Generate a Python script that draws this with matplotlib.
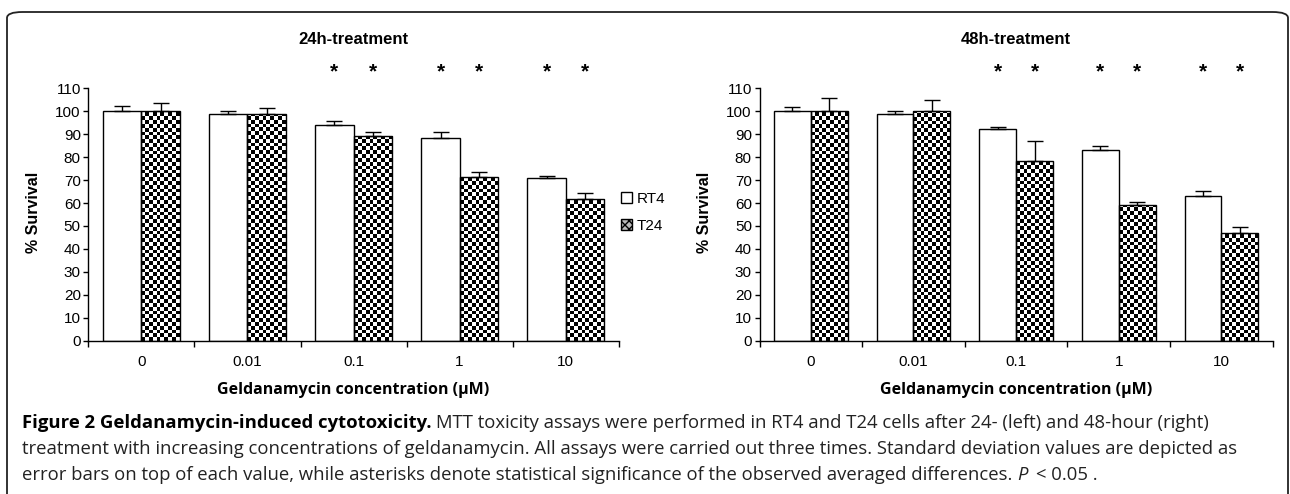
import numpy as np
import matplotlib
matplotlib.use("Agg")
import matplotlib.pyplot as plt
from matplotlib.patches import Patch, FancyBboxPatch

# data
concentrations = ["0", "0.01", "0.1", "1", "10"]
series_names = ["RT4", "T24"]

rt4_24h = [100, 99, 94, 88.5, 71]
rt4_24h_err = [2.4, 1.2, 1.7, 2.6, 0.6]
t24_24h = [100, 99, 89, 71.3, 61.7]
t24_24h_err = [3.4, 2.6, 2.0, 2.2, 2.7]

rt4_48h = [100, 99, 92.3, 83, 63.2]
rt4_48h_err = [1.8, 1.3, 1.0, 1.7, 2.2]
t24_48h = [100, 100.2, 78.5, 59.3, 46.8]
t24_48h_err = [5.6, 4.8, 8.7, 1.0, 2.8]

# categories marked with an asterisk (both bars)
significant = [False, False, True, True, True]

titles = ["24h-treatment", "48h-treatment"]
xlabel = "Geldanamycin concentration (\u00b5M)"
ylabel = "% Survival"

W, H = 1290, 494
NARROW = ["Liberation Sans Narrow", "Liberation Sans", "DejaVu Sans"]
CAP = ["Open Sans", "DejaVu Sans"]

fig = plt.figure(figsize=(W / 100, H / 100), dpi=100)
fig.patch.set_facecolor("white")

# rounded frame around the figure (bottom runs off the page)
frame = FancyBboxPatch((7 / W, -0.1), (1288 - 7) / W, 1.1 - 12 / H,
                       boxstyle="round,pad=0,rounding_size=0.012",
                       transform=fig.transFigure, fill=False,
                       edgecolor="#222222", lw=1.3)
fig.patches.append(frame)

ax_bottom = (H - 340.7) / H
ax_height = (340.7 - 88.3) / H
ax1 = fig.add_axes([88.4 / W, ax_bottom, (618.7 - 88.4) / W, ax_height])
ax2 = fig.add_axes([759.5 / W, ax_bottom, (1272.8 - 759.5) / W, ax_height])

bw = 0.36
cell = 3.8  # checker square, px


def checker_fill(ax, bar, px_x, px_y):
    x0 = bar.get_x()
    w = bar.get_width()
    h = bar.get_height()
    nx = int(np.ceil(w * px_x / cell))
    ny = int(np.ceil(h * px_y / cell))
    arr = np.add.outer(np.arange(ny), np.arange(nx)) % 2
    im = ax.imshow(arr, cmap="gray", vmin=0, vmax=1, origin="lower",
                   extent=(x0, x0 + nx * cell / px_x, 0, ny * cell / px_y),
                   interpolation="nearest", aspect="auto", zorder=1)
    im.set_clip_path(bar)


def draw_panel(ax, rt4, rt4_err, t24, t24_err, title):
    x = np.arange(len(concentrations))
    pos = ax.get_position()
    px_x = pos.width * W / 5.0
    px_y = pos.height * H / 110.0

    ax.bar(x - bw / 2, rt4, bw, color="white", edgecolor="black",
           lw=1.0, zorder=2)
    b2 = ax.bar(x + bw / 2, t24, bw, facecolor="none", edgecolor="black",
                lw=1.0, zorder=3)
    for b in b2:
        checker_fill(ax, b, px_x, px_y)

    ax.errorbar(x - bw / 2, rt4, yerr=[np.zeros(len(x)), rt4_err],
                fmt="none", ecolor="black", elinewidth=1, capsize=5.5,
                capthick=1, zorder=4)
    ax.errorbar(x + bw / 2, t24, yerr=[np.zeros(len(x)), t24_err],
                fmt="none", ecolor="black", elinewidth=1, capsize=5.5,
                capthick=1, zorder=4)

    for i, s in enumerate(significant):
        if s:
            for dx in (-bw / 2, bw / 2):
                ax.text(i + dx, 117.0, "*", ha="center", va="center",
                        fontsize=15, fontweight="bold", family=NARROW,
                        clip_on=False)

    ax.set_xlim(-0.5, len(x) - 0.5)
    ax.set_ylim(0, 110)
    ax.set_yticks(np.arange(0, 111, 10))
    ax.set_xticks(x)
    ax.set_xticklabels(concentrations)
    ax.set_xticks(np.arange(-0.5, len(x)), minor=True)
    ax.tick_params(axis="x", which="major", length=0, pad=10)
    ax.tick_params(axis="x", which="minor", length=4, width=1, direction="out")
    ax.tick_params(axis="y", length=3.5, width=1, direction="out", pad=2)
    for lab in ax.get_xticklabels() + ax.get_yticklabels():
        lab.set_family(NARROW)
        lab.set_fontsize(11)
    for sp in ("top", "right"):
        ax.spines[sp].set_visible(False)
    for sp in ("left", "bottom"):
        ax.spines[sp].set_linewidth(1)
    ax.set_facecolor("none")

    cx = pos.x0 + pos.width / 2
    fig.text(cx, 1 - 39 / H, title, ha="center", va="center",
             fontsize=12, fontweight="bold", family=NARROW)
    fig.text(cx, 1 - 390 / H, xlabel, ha="center", va="center",
             fontsize=11.5, fontweight="bold", family=CAP)
    fig.text(pos.x0 - 55 / W, 1 - 212 / H, ylabel, ha="center", va="center",
             rotation=90, fontsize=11.5, fontweight="bold", family=NARROW)


draw_panel(ax1, rt4_24h, rt4_24h_err, t24_24h, t24_24h_err, titles[0])
draw_panel(ax2, rt4_48h, rt4_48h_err, t24_48h, t24_48h_err, titles[1])

handles = [Patch(facecolor="white", edgecolor="black", lw=1),
           Patch(facecolor="#bbbbbb", edgecolor="black", lw=1, hatch="xxxx")]
fig.legend(handles, series_names, loc="center left",
           bbox_to_anchor=(621 / W, 1 - 212.5 / H), frameon=False,
           handlelength=0.75, handleheight=0.75, handletextpad=0.25,
           labelspacing=0.85, borderpad=0, borderaxespad=0,
           prop={"family": NARROW, "size": 11})

# caption, built from segments with mixed weight/style
caption_lines = [
    [("Figure 2 Geldanamycin-induced cytotoxicity.", "bold", "normal"),
     ("MTT toxicity assays were performed in RT4 and T24 cells after 24- (left) and 48-hour (right)",
      "normal", "normal")],
    [("treatment with increasing concentrations of geldanamycin. All assays were carried out three times. Standard deviation values are depicted as",
      "normal", "normal")],
    [("error bars on top of each value, while asterisks denote statistical significance of the observed averaged differences.",
      "normal", "normal"),
     ("P", "normal", "italic"),
     ("< 0.05 .", "normal", "normal")],
]
caption_y = [423, 449, 475]
cap_size = 13.3
renderer = fig.canvas.get_renderer()
gap = cap_size * 100 / 72 * 0.26
for segs, yy in zip(caption_lines, caption_y):
    xpx = 22
    for txt, wt, st in segs:
        t = fig.text(xpx / W, 1 - yy / H, txt, ha="left", va="center",
                     fontsize=cap_size, fontweight=wt, fontstyle=st,
                     family=CAP, color="#222222" if wt == "normal" else "black")
        ext = t.get_window_extent(renderer)
        xpx = ext.x1 + gap * (1.8 if st == "italic" else 1.0)

fig.savefig("out.png", dpi=100, facecolor="white")
